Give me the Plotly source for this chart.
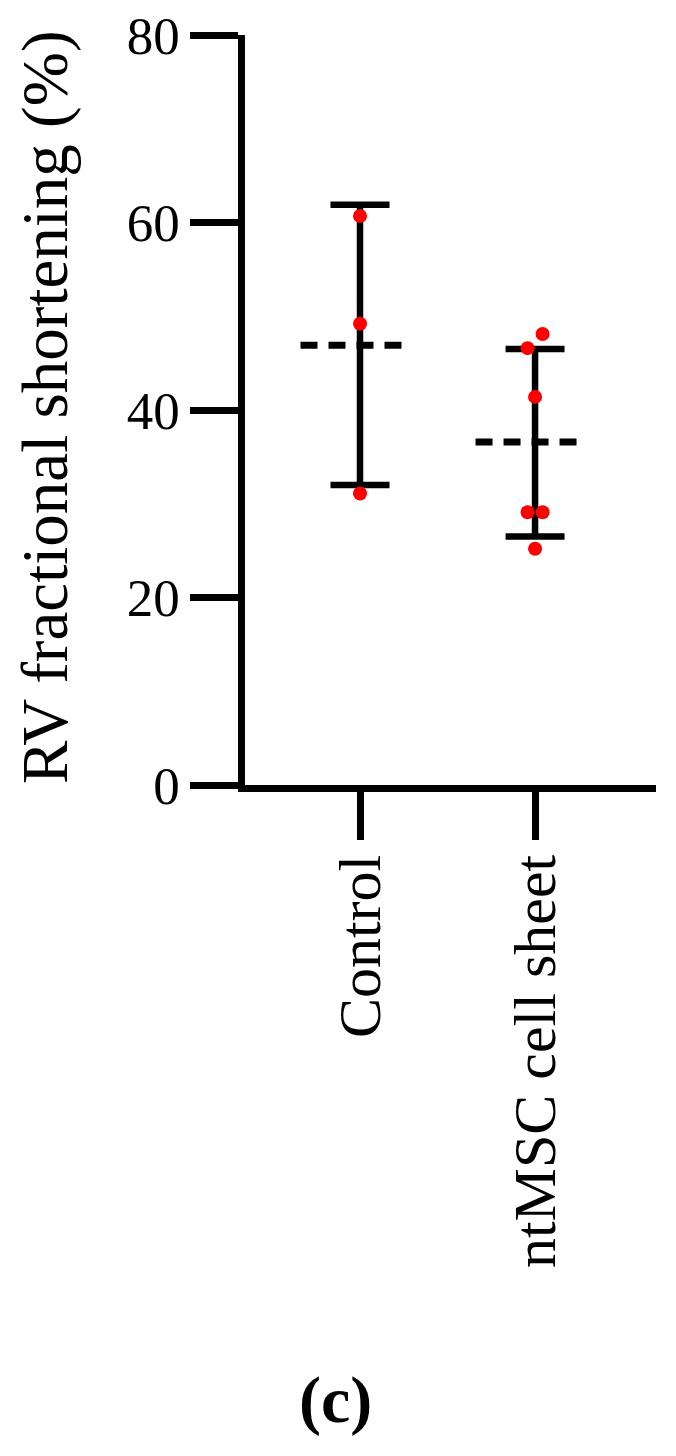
import plotly.graph_objects as go

groups = ['Control', 'ntMSC cell sheet']
# individual animals
control_vals = [60.7, 49.2, 31.1]
ntmsc_vals = [48.1, 46.6, 41.4, 29.1, 29.1, 25.2]
# group mean and error-bar ends (mean +/- SD)
means = [46.9, 36.6]
upper = [61.9, 46.5]
lower = [32.0, 26.5]

font = 'Liberation Serif'
W, H = 676, 1456
# page body has an 8px margin, so the margins are shifted to compensate
L, R, T, B = 237, 28, 27, 679
pw, ph = W - L - R, H - T - B


def px_x(x):
    return (x - 8 - L) / pw


def px_y(y):
    return (H - B + 8 - y) / ph


fig = go.Figure()

# error bars (vertical line + caps)
fig.add_trace(go.Scatter(
    x=[0, 1], y=means, mode='markers',
    marker=dict(size=1, color='rgba(0,0,0,0)'),
    error_y=dict(type='data', symmetric=False,
                 array=[u - m for u, m in zip(upper, means)],
                 arrayminus=[m - l for m, l in zip(means, lower)],
                 color='black', thickness=6.5, width=29.5),
    showlegend=False, hoverinfo='skip'))

# dashed mean lines
for i, m in enumerate(means):
    fig.add_trace(go.Scatter(
        x=[i - 0.34, i + 0.275], y=[m, m], mode='lines',
        line=dict(color='black', width=7, dash='17px,11px'),
        showlegend=False, hoverinfo='skip'))

# points, small horizontal jitter so overlapping ones show
jit_c = [0, 0, 0]
jit_n = [0.043, -0.043, 0, -0.043, 0.043, 0]
fig.add_trace(go.Scatter(
    x=[0 + j for j in jit_c] + [1 + j for j in jit_n],
    y=control_vals + ntmsc_vals, mode='markers',
    marker=dict(size=14, color='#ff0000'),
    showlegend=False))

fig.update_layout(
    width=W, height=H,
    margin=dict(l=L, r=R, t=T, b=B),
    plot_bgcolor='white', paper_bgcolor='white',
    font=dict(family=font, color='black', size=52),
    xaxis=dict(range=[-0.657, 1.691], tickvals=[0, 1], ticktext=groups,
               tickangle=-90, ticks='outside', ticklen=48, tickwidth=6.5,
               tickcolor='black', showline=True, linewidth=6.5, linecolor='black',
               showgrid=False, zeroline=False, ticklabelstandoff=-9,
               automargin=False, ticklabeloverflow='allow',
               tickfont=dict(family=font, size=60)),
    yaxis=dict(range=[0, 80], tickvals=[0, 20, 40, 60, 80],
               ticks='outside', ticklen=48, tickwidth=6.5, tickcolor='black',
               showline=True, linewidth=6.5, linecolor='black',
               showgrid=False, zeroline=False, automargin=False,
               ticklabeloverflow='allow',
               tickfont=dict(family=font, size=53)),
    annotations=[
        dict(text='RV fractional shortening (%)', textangle=-90,
             x=px_x(45), xref='paper', y=px_y(407), yref='paper',
             xanchor='center', yanchor='middle', showarrow=False,
             font=dict(family=font, size=65)),
        dict(text='<b>(c)</b>',
             x=px_x(335), xref='paper', y=px_y(1400), yref='paper',
             xanchor='center', yanchor='middle', showarrow=False,
             font=dict(family=font, size=66)),
    ],
)
fig.write_html('out.html')
